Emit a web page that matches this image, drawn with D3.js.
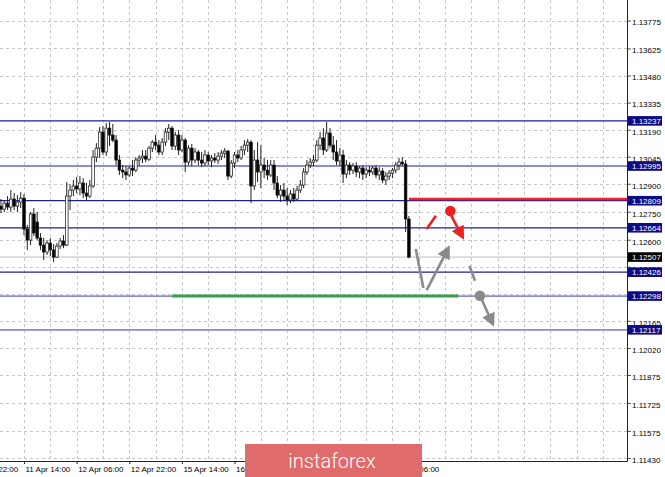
<!DOCTYPE html>
<html><head><meta charset="utf-8">
<script src="https://cdn.jsdelivr.net/npm/d3@7"></script>
<style>body{margin:0;background:#fff}svg{display:block}text{font-family:"Liberation Sans",Arial,sans-serif}</style>
</head><body><svg id="c" width="665" height="477"></svg>
<script>
// ---- data ----
const openP = [1.12780,1.12764,1.12796,1.12775,1.12818,1.12780,1.12802,1.12823,1.12657,1.12598,
1.12738,1.12695,1.12609,1.12571,1.12534,1.12582,1.12545,1.12507,1.12566,1.12593,
1.12571,1.12834,1.12866,1.12888,1.12872,1.12904,1.12850,1.12834,1.12888,1.13043,
1.13091,1.13177,1.13070,1.13198,1.13161,1.13134,1.13027,1.12973,1.12963,1.12947,
1.12984,1.12973,1.13027,1.13038,1.13048,1.13032,1.13091,1.13123,1.13107,1.13070,
1.13123,1.13177,1.13198,1.13102,1.13161,1.13081,1.13134,1.13016,1.13091,1.13027,
1.13070,1.13027,1.13011,1.13054,1.13022,1.13038,1.13027,1.13048,1.13064,1.13075,
1.12941,1.13011,1.13054,1.13038,1.13081,1.13107,1.13123,1.12888,1.13027,1.12963,
1.13000,1.12973,1.12947,1.13000,1.12904,1.12839,1.12866,1.12834,1.12813,1.12845,
1.12818,1.12866,1.12893,1.12963,1.13000,1.13016,1.13027,1.13107,1.13145,1.13081,
1.13172,1.13107,1.13070,1.13022,1.13054,1.12952,1.13000,1.12973,1.12995,1.12963,
1.12984,1.12952,1.12973,1.12963,1.12984,1.12947,1.12968,1.12920,1.12941,1.12957,
1.12973,1.13000,1.13016,1.13006,1.12711];
const highP = [1.12818,1.12813,1.12834,1.12866,1.12850,1.12839,1.12855,1.12845,1.12679,1.12748,
1.12770,1.12748,1.12636,1.12609,1.12598,1.12609,1.12577,1.12582,1.12609,1.12625,
1.12909,1.12898,1.12920,1.12936,1.12941,1.12930,1.12904,1.12920,1.13081,1.13118,
1.13204,1.13209,1.13225,1.13231,1.13220,1.13161,1.13054,1.13000,1.12995,1.12995,
1.13027,1.13043,1.13054,1.13081,1.13081,1.13102,1.13134,1.13161,1.13134,1.13145,
1.13198,1.13220,1.13209,1.13177,1.13188,1.13161,1.13145,1.13107,1.13113,1.13091,
1.13081,1.13070,1.13081,1.13070,1.13054,1.13064,1.13070,1.13081,1.13091,1.13081,
1.13027,1.13070,1.13081,1.13102,1.13134,1.13140,1.13134,1.13081,1.13123,1.13107,
1.13038,1.13027,1.13027,1.13027,1.12941,1.12893,1.12904,1.12877,1.12866,1.12877,
1.12888,1.12920,1.12984,1.13027,1.13038,1.13054,1.13134,1.13177,1.13198,1.13231,
1.13198,1.13156,1.13134,1.13091,1.13081,1.13027,1.13016,1.13011,1.13016,1.12995,
1.13000,1.12989,1.12995,1.12995,1.13000,1.12989,1.12984,1.12963,1.12973,1.12984,
1.13016,1.13038,1.13043,1.13027,1.12727];
const lowP = [1.12743,1.12748,1.12759,1.12748,1.12759,1.12748,1.12770,1.12625,1.12545,1.12571,
1.12620,1.12598,1.12545,1.12491,1.12518,1.12512,1.12480,1.12502,1.12550,1.12555,
1.12566,1.12759,1.12834,1.12850,1.12839,1.12823,1.12813,1.12823,1.12877,1.13016,
1.13038,1.13054,1.13048,1.13102,1.13123,1.13000,1.12947,1.12930,1.12920,1.12936,
1.12941,1.12963,1.12995,1.13011,1.13016,1.13022,1.13070,1.13081,1.13054,1.13054,
1.13102,1.13134,1.13081,1.13081,1.13054,1.13070,1.12963,1.13000,1.12995,1.13011,
1.13000,1.12989,1.12995,1.13000,1.12989,1.13011,1.13006,1.13027,1.13038,1.12920,
1.12930,1.12984,1.13016,1.13027,1.13054,1.13070,1.12796,1.12866,1.12909,1.12877,
1.12930,1.12920,1.12936,1.12866,1.12823,1.12802,1.12813,1.12786,1.12796,1.12802,
1.12807,1.12850,1.12877,1.12947,1.12984,1.12995,1.13016,1.13081,1.13054,1.13070,
1.13091,1.13027,1.13000,1.12995,1.12904,1.12930,1.12947,1.12952,1.12936,1.12930,
1.12920,1.12930,1.12941,1.12947,1.12930,1.12920,1.12904,1.12893,1.12920,1.12930,
1.12957,1.12973,1.12995,1.12641,1.12500];
const closeP = [1.12764,1.12796,1.12775,1.12818,1.12780,1.12802,1.12823,1.12657,1.12598,1.12738,
1.12636,1.12609,1.12571,1.12534,1.12582,1.12545,1.12507,1.12566,1.12593,1.12571,
1.12834,1.12866,1.12888,1.12872,1.12904,1.12850,1.12834,1.12888,1.13043,1.13091,
1.13177,1.13070,1.13198,1.13161,1.13134,1.13027,1.12973,1.12963,1.12947,1.12984,
1.12973,1.13027,1.13038,1.13048,1.13032,1.13091,1.13123,1.13107,1.13070,1.13123,
1.13177,1.13198,1.13102,1.13161,1.13081,1.13134,1.13016,1.13091,1.13027,1.13070,
1.13027,1.13011,1.13054,1.13022,1.13038,1.13027,1.13048,1.13064,1.13075,1.12941,
1.13011,1.13054,1.13038,1.13081,1.13107,1.13123,1.12888,1.13027,1.12963,1.13000,
1.12973,1.12947,1.13000,1.12904,1.12839,1.12866,1.12834,1.12813,1.12845,1.12818,
1.12866,1.12893,1.12963,1.13000,1.13016,1.13027,1.13107,1.13145,1.13081,1.13172,
1.13107,1.13070,1.13022,1.13054,1.12952,1.13000,1.12973,1.12995,1.12963,1.12984,
1.12952,1.12973,1.12963,1.12984,1.12947,1.12968,1.12920,1.12941,1.12957,1.12973,
1.13000,1.13016,1.13006,1.12711,1.12507];

const priceTicks = [1.13775,1.13625,1.13480,1.13335,1.13190,1.13045,1.12900,1.12750,1.12600,1.12455,1.12310,1.12165,1.12020,1.11875,1.11725,1.11575,1.11430];
const timeTickBars = [-9,7,23,39,55,71,87,103,119];
const timeLabels = ["10 Apr 22:00","11 Apr 14:00","12 Apr 06:00","12 Apr 22:00","15 Apr 14:00","16 Apr 06:00","16 Apr 22:00","17 Apr 14:00","18 Apr 06:00"];
const levels = [1.13237,1.12995,1.12809,1.12664,1.12426,1.12298,1.12117];
const lightLevels = [1.12995,1.12298,1.12117];
const currentPrice = 1.12507;
const redLine = [124, 200, 1.12818];     // from bar, to bar, price
const greenLine = [52, 139, 1.12298];
const redDash = [[129.4,1.12657],[132.2,1.12729]];
const redDot = [136.6,1.12754];
const redArrow = [[136.8,1.12732],[140.0,1.12625]];
const grayStroke = [[126.1,1.12550],[128.4,1.12341]];
const grayArrow1 = [[129.4,1.12330],[135.7,1.12545]];
const grayDash = [[142.4,1.12460],[144.1,1.12380]];
const grayDot = [145.6,1.12300];
const grayArrow2 = [[146.2,1.12277],[149.2,1.12160]];

// ---- chart ----
const W=665,H=477,plotR=627,plotB=461;
const x=d3.scaleLinear().domain([0,124]).range([0.97,408.9]);
const y=d3.scaleLinear().domain([1.11430,1.13775]).range([458,20.5]);
const svg=d3.select('#c');
svg.append('rect').attr('width',W).attr('height',H).attr('fill','#fff');
const defs=svg.append('defs');
defs.append('clipPath').attr('id','clip').append('rect').attr('width',plotR).attr('height',plotB);
function marker(id,color){
  defs.append('marker').attr('id',id).attr('viewBox','0 0 10 10').attr('refX',6).attr('refY',5)
    .attr('markerWidth',5.2).attr('markerHeight',5.2).attr('orient','auto')
    .append('path').attr('d','M0,0L10,5L0,10z').attr('fill',color);
}
marker('mr','#ee1f1f'); marker('mg','#8a8a8a');

const g=svg.append('g').attr('clip-path','url(#clip)');
// grid
g.selectAll('.hg').data(priceTicks).join('line')
  .attr('x1',0).attr('x2',plotR).attr('y1',d=>Math.round(y(d))+0.5).attr('y2',d=>Math.round(y(d))+0.5)
  .attr('stroke','#c6c6c6').attr('stroke-dasharray','3,3');
const gridBars=d3.range(-1,200,8);
g.selectAll('.vg').data(gridBars).join('line')
  .attr('y1',0).attr('y2',plotB).attr('x1',d=>Math.round(x(d))+0.5).attr('x2',d=>Math.round(x(d))+0.5)
  .attr('stroke','#c6c6c6').attr('stroke-dasharray','3,3');

// level lines
g.selectAll('.lv').data(levels).join('line')
  .attr('x1',0).attr('x2',plotR).attr('y1',d=>y(d)).attr('y2',d=>y(d))
  .attr('stroke',d=>lightLevels.includes(d)?'#8c8cd2':'#1e1e98')
  .attr('stroke-width',d=>lightLevels.includes(d)?1.8:1.2);
g.append('line').attr('x1',0).attr('x2',plotR).attr('y1',y(currentPrice)).attr('y2',y(currentPrice))
  .attr('stroke','#bdbdbd').attr('stroke-width',1);

// candles
const idx=d3.range(openP.length);
g.selectAll('.wk').data(idx).join('line')
  .attr('x1',i=>x(i)).attr('x2',i=>x(i)).attr('y1',i=>y(highP[i])).attr('y2',i=>y(lowP[i]))
  .attr('stroke','#222').attr('stroke-width',1);
g.selectAll('.bd').data(idx).join('rect')
  .attr('x',i=>x(i)-1.3).attr('width',2.6)
  .attr('y',i=>Math.min(y(openP[i]),y(closeP[i])))
  .attr('height',i=>Math.max(1,Math.abs(y(openP[i])-y(closeP[i]))))
  .attr('fill',i=>closeP[i]<openP[i]?'#000':'#fff')
  .attr('stroke','#111').attr('stroke-width',0.7);

// signal lines
g.append('line').attr('x1',x(redLine[0])).attr('x2',x(redLine[1])).attr('y1',y(redLine[2])).attr('y2',y(redLine[2]))
  .attr('stroke','#ee2424').attr('stroke-width',2.6);
g.append('line').attr('x1',x(greenLine[0])).attr('x2',x(greenLine[1])).attr('y1',y(greenLine[2])).attr('y2',y(greenLine[2]))
  .attr('stroke','#35a050').attr('stroke-width',3);

function seg(p,color,w,mk,dash){
  const l=g.append('line').attr('x1',x(p[0][0])).attr('y1',y(p[0][1])).attr('x2',x(p[1][0])).attr('y2',y(p[1][1]))
    .attr('stroke',color).attr('stroke-width',w).attr('stroke-linecap','butt');
  if(mk) l.attr('marker-end','url(#'+mk+')');
  if(dash) l.attr('stroke-dasharray',dash);
}
seg(redDash,'#ee1f1f',2.6);
seg(redArrow,'#ee1f1f',2.6,'mr');
g.append('circle').attr('cx',x(redDot[0])).attr('cy',y(redDot[1])).attr('r',5.3).attr('fill','#ee1f1f');
seg(grayStroke,'#8a8a8a',2.6);
seg(grayArrow1,'#8a8a8a',2.6,'mg');
seg(grayDash,'#8a8a8a',2.6);
g.append('circle').attr('cx',x(grayDot[0])).attr('cy',y(grayDot[1])).attr('r',5.3).attr('fill','#8a8a8a');
seg(grayArrow2,'#8a8a8a',2.6,'mg');

// axes
const ya=svg.append('g').attr('transform',`translate(${plotR},0)`)
  .call(d3.axisRight(y).tickValues(priceTicks).tickFormat(d3.format('.5f')).tickSize(4).tickPadding(1));
ya.select('.domain').remove();
ya.selectAll('text').attr('font-size',8).attr('font-family','Liberation Sans, Arial, sans-serif').attr('dy','0.55em').attr('fill','#000');
ya.selectAll('line').attr('stroke','#555');
const xa=svg.append('g').attr('transform',`translate(0,${plotB})`)
  .call(d3.axisBottom(x).tickValues(timeTickBars).tickFormat((d,i)=>timeLabels[i]).tickSize(3).tickPadding(2));
xa.select('.domain').remove();
xa.selectAll('text').attr('font-size',8).attr('font-family','Liberation Sans, Arial, sans-serif').attr('text-anchor','start').attr('dx',1).attr('fill','#000');
xa.selectAll('line').attr('stroke','#222');
svg.append('line').attr('x1',0).attr('x2',plotR+0.5).attr('y1',plotB+0.5).attr('y2',plotB+0.5).attr('stroke','#222');
svg.append('line').attr('x1',plotR+0.5).attr('x2',plotR+0.5).attr('y1',0).attr('y2',plotB+0.5).attr('stroke','#222');

// level boxes
const lb=svg.selectAll('.lb').data(levels.concat([currentPrice])).join('g')
  .attr('transform',d=>`translate(628,${y(d)})`);
lb.append('rect').attr('x',0).attr('y',-4.8).attr('width',34).attr('height',9.6)
  .attr('fill',d=>d===currentPrice?'#000':'#0c0c86');
lb.append('text').attr('x',4).attr('y',3).attr('font-size',8).attr('fill','#fff').text(d=>d.toFixed(5));

// banner
svg.append('rect').attr('x',245).attr('y',444).attr('width',177).attr('height',33).attr('fill','#e06b6b');
svg.append('text').attr('x',332).attr('y',467.5).attr('text-anchor','middle').attr('fill','#fff')
  .attr('font-size',20).attr('font-weight',300).style('font-family','Roboto, sans-serif').text('instaforex');
</script></body></html>
